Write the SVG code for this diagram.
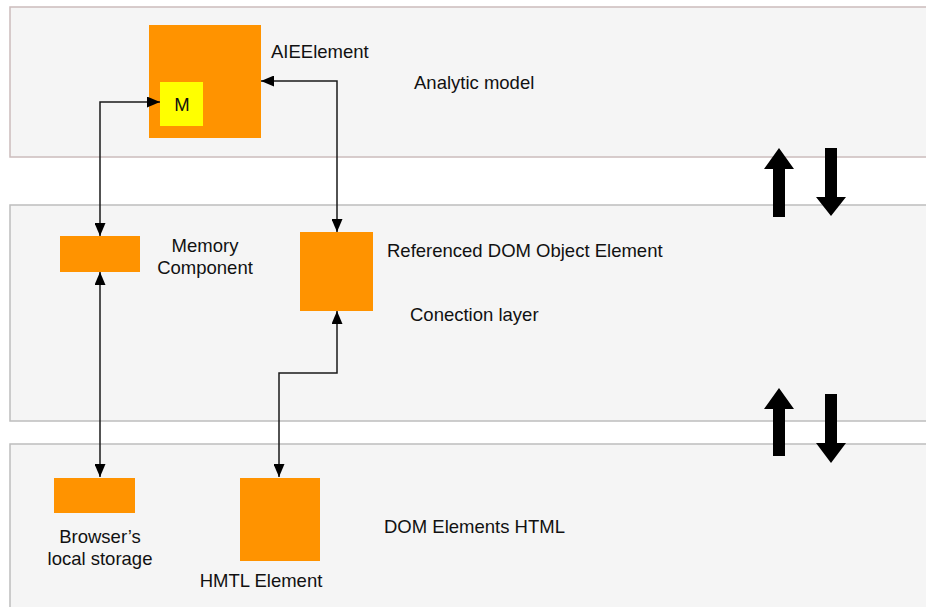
<svg xmlns="http://www.w3.org/2000/svg" width="926" height="607" viewBox="0 0 926 607">
<defs>
<style>
.layer{fill:#f5f5f5;stroke:#bdbdbd;stroke-width:1.5}
.box{fill:#ff9300}
.conn{fill:none;stroke:#1a1a1a;stroke-width:1.5}
.t{font-family:"Liberation Sans",Arial,sans-serif;font-size:18.5px;fill:#111}
.big{fill:#000}
</style>
<marker id="ah" viewBox="0 0 13 11" refX="13" refY="5.5" markerWidth="13" markerHeight="11" markerUnits="userSpaceOnUse" orient="auto-start-reverse">
<path d="M0,0 L13,5.5 L0,11 Z" fill="#000"/>
</marker>
</defs>
<rect width="926" height="607" fill="#ffffff"/>
<g id="layers">
<rect class="layer" x="10" y="7" width="930" height="150" style="stroke:#cbbcbc"/>
<rect class="layer" x="10" y="205" width="930" height="216"/>
<rect class="layer" x="10" y="444" width="930" height="168"/>
</g>
<g id="layer-labels">
<text class="t" x="414" y="89">Analytic model</text>
<text class="t" x="410" y="321">Conection layer</text>
<text class="t" x="384" y="533">DOM Elements HTML</text>
</g>
<g id="aieelement">
<rect class="box" x="149" y="25" width="112" height="113"/>
<text class="t" x="271" y="58">AIEElement</text>
</g>
<g id="m">
<rect x="160" y="82" width="43" height="44" fill="#ffff00"/>
<text class="t" x="182" y="111" text-anchor="middle">M</text>
</g>
<g id="memory">
<rect class="box" x="60" y="236" width="80" height="36"/>
<text class="t" x="205" y="252" text-anchor="middle">Memory</text>
<text class="t" x="205" y="274" text-anchor="middle">Component</text>
</g>
<g id="refdom">
<rect class="box" x="300" y="232" width="73" height="79"/>
<text class="t" x="387" y="257">Referenced DOM Object Element</text>
</g>
<g id="storage">
<rect class="box" x="54" y="478" width="81" height="35"/>
<text class="t" x="100" y="543" text-anchor="middle">Browser’s</text>
<text class="t" x="100" y="565" text-anchor="middle">local storage</text>
</g>
<g id="html">
<rect class="box" x="240" y="478" width="80" height="83"/>
<text class="t" x="261" y="587" text-anchor="middle">HMTL Element</text>
</g>
<g id="connectors">
<path class="conn" d="M100,236 V102 H160" marker-start="url(#ah)" marker-end="url(#ah)"/>
<path class="conn" d="M261,81 H337 V232" marker-start="url(#ah)" marker-end="url(#ah)"/>
<path class="conn" d="M100,272 V477" marker-start="url(#ah)" marker-end="url(#ah)"/>
<path class="conn" d="M337,311 V373 H279 V477" marker-start="url(#ah)" marker-end="url(#ah)"/>
</g>
<g id="flow-arrows">
<polygon class="big" points="779,148 794,169 785,169 785,217 773,217 773,169 764,169"/>
<polygon class="big" points="825,148 837,148 837,197 846,197 831,216 816,197 825,197"/>
<polygon class="big" points="779,388 794,409 785,409 785,456 773,456 773,409 764,409"/>
<polygon class="big" points="825,394 837,394 837,443 846,443 831,463 816,443 825,443"/>
</g>
</svg>
